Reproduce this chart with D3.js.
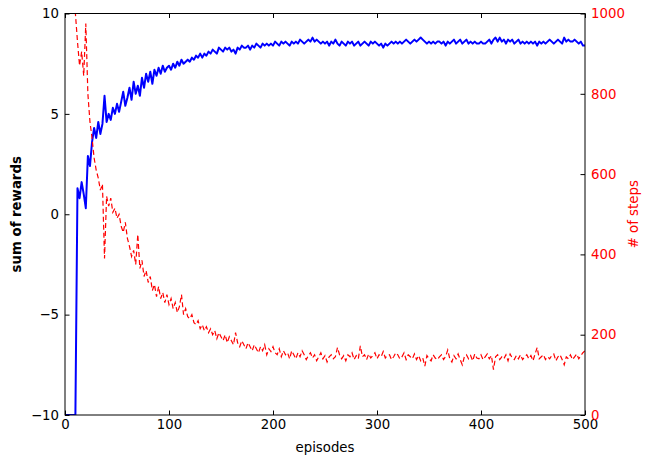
<!DOCTYPE html>
<html>
<head>
<meta charset="utf-8">
<script src="https://cdn.jsdelivr.net/npm/d3@7"></script>
<style>
  body { margin: 0; background: #fff; }
  text { font-family: "DejaVu Sans", sans-serif; }
</style>
</head>
<body>
<div id="chart"></div>
<script>
//episode step between recorded values
var epStep = 2;

//sum of rewards per episode (every 2nd episode, 0..500)
var rewards = [
  -10,-10,-10,-10,-10,-10,1.3,0.8,1.6,1.0,
  0.3,2.9,2.4,3.6,4.3,3.8,4.6,4.0,4.5,5.9,
  4.6,5.0,4.7,5.3,5.0,5.5,5.1,5.6,6.1,5.4,
  5.8,6.3,5.7,6.6,6.0,6.4,5.9,6.8,6.3,7.0,
  6.6,7.1,6.5,7.2,6.9,7.3,7.0,7.4,7.1,7.3,
  7.4,7.2,7.5,7.3,7.6,7.4,7.7,7.5,7.6,7.7,
  7.6,7.8,7.7,7.9,7.8,8.0,7.8,8.0,7.9,8.1,
  8.0,8.2,8.1,8.0,8.3,8.2,8.1,8.3,8.2,8.3,
  8.1,8.2,8.0,8.3,8.2,8.4,8.3,8.3,8.4,8.2,
  8.4,8.3,8.5,8.4,8.3,8.5,8.4,8.5,8.4,8.5,
  8.4,8.6,8.5,8.4,8.6,8.5,8.6,8.5,8.4,8.6,
  8.5,8.6,8.5,8.7,8.6,8.5,8.6,8.7,8.6,8.8,
  8.6,8.7,8.6,8.5,8.6,8.5,8.6,8.4,8.6,8.5,
  8.7,8.5,8.4,8.6,8.5,8.4,8.6,8.5,8.6,8.4,
  8.5,8.6,8.4,8.5,8.6,8.5,8.4,8.6,8.5,8.6,
  8.5,8.4,8.5,8.3,8.5,8.4,8.5,8.6,8.5,8.6,
  8.5,8.6,8.5,8.6,8.7,8.6,8.5,8.6,8.7,8.6,
  8.7,8.8,8.7,8.6,8.5,8.6,8.5,8.6,8.5,8.6,
  8.6,8.5,8.6,8.4,8.6,8.5,8.6,8.7,8.5,8.6,
  8.7,8.5,8.6,8.7,8.5,8.6,8.5,8.6,8.5,8.5,
  8.6,8.5,8.5,8.6,8.7,8.5,8.7,8.8,8.6,8.8,
  8.6,8.7,8.5,8.7,8.6,8.7,8.5,8.6,8.7,8.5,
  8.6,8.5,8.6,8.5,8.6,8.5,8.6,8.4,8.6,8.5,
  8.6,8.5,8.6,8.7,8.6,8.5,8.6,8.7,8.6,8.5,
  8.8,8.6,8.7,8.6,8.6,8.7,8.6,8.5,8.6,8.4,
  8.4
];

//number of steps per episode (same episodes)
var steps = [
  1000,1000,1000,1000,1000,1000,930,870,905,845,
  975,800,730,690,640,610,590,560,575,390,
  545,520,540,505,515,490,500,470,455,480,
  440,420,395,410,375,450,365,385,345,360,
  330,345,310,325,295,320,290,305,280,300,
  275,290,265,280,255,270,300,250,265,245,
  240,250,230,225,235,215,225,210,220,205,
  215,200,210,190,205,195,185,200,180,195,
  185,175,205,180,170,185,175,165,180,170,
  160,175,165,155,170,160,175,150,165,158,
  170,155,150,165,145,160,150,155,140,160,
  150,140,155,145,160,150,138,148,155,142,
  150,135,145,155,140,148,132,145,150,140,
  145,168,150,140,148,135,150,145,155,138,
  148,140,172,145,150,138,152,142,148,155,
  140,150,145,158,142,148,150,138,145,155,
  150,140,145,155,138,150,145,140,152,138,
  148,135,142,122,148,140,135,150,142,138,
  145,150,138,146,162,140,132,148,140,152,
  138,125,145,150,140,148,135,152,142,140,
  150,138,145,152,140,148,113,145,150,138,
  145,140,150,135,152,142,138,148,140,150,
  138,145,150,140,148,135,152,168,140,145,
  150,138,145,140,148,152,135,145,150,138,
  125,145,140,150,138,145,152,140,148,155,
  160
];

var xTicks = [0, 100, 200, 300, 400, 500];
var rewardTicks = [-10, -5, 0, 5, 10];
var stepTicks = [0, 200, 400, 600, 800, 1000];

//set the dimensions and margins of the graph
var margin = {top: 13.5, right: 72, bottom: 42, left: 65},
    width = 657 - margin.left - margin.right,
    height = 457 - margin.top - margin.bottom;

var svg = d3.select("#chart")
  .append("svg")
    .attr("width", 657)
    .attr("height", 457)
  .append("g")
    .attr("transform", "translate(" + margin.left + "," + margin.top + ")");

var x = d3.scaleLinear().domain([0, 500]).range([0, width]);
var yL = d3.scaleLinear().domain([-10, 10]).range([height, 0]);
var yR = d3.scaleLinear().domain([0, 1000]).range([height, 0]);

var fmt = function(d) { return d < 0 ? "\u2212" + Math.abs(d) : String(d); };
var fs = "13.3px";

svg.append("clipPath").attr("id", "plotClip")
  .append("rect").attr("width", width).attr("height", height);

//lines
var plot = svg.append("g").attr("clip-path", "url(#plotClip)");

plot.append("path")
  .datum(rewards)
  .attr("fill", "none")
  .attr("stroke", "#0000ff")
  .attr("stroke-width", 2)
  .attr("stroke-linejoin", "round")
  .attr("d", d3.line()
    .x(function(d, i) { return x(i * epStep); })
    .y(function(d) { return yL(d); }));

plot.append("path")
  .datum(steps)
  .attr("fill", "none")
  .attr("stroke", "#ff0000")
  .attr("stroke-width", 1.2)
  .attr("stroke-dasharray", "5,3")
  .attr("d", d3.line()
    .x(function(d, i) { return x(i * epStep); })
    .y(function(d) { return yR(d); }));

//axes, ticks pointing inward like matplotlib classic
var tk = 4.5;
svg.append("g")
  .attr("transform", "translate(0," + height + ")")
  .call(d3.axisBottom(x).tickValues(xTicks).tickSizeInner(-tk).tickSizeOuter(0).tickPadding(5).tickFormat(fmt));
svg.append("g")
  .call(d3.axisTop(x).tickValues(xTicks).tickSizeInner(-tk).tickSizeOuter(0).tickFormat(""));
svg.append("g")
  .call(d3.axisLeft(yL).tickValues(rewardTicks).tickSizeInner(-tk).tickSizeOuter(0).tickPadding(6).tickFormat(fmt));
var rAxis = svg.append("g")
  .attr("transform", "translate(" + width + ",0)")
  .call(d3.axisRight(yR).tickValues(stepTicks).tickSizeInner(-tk).tickSizeOuter(0).tickPadding(6).tickFormat(fmt));

svg.selectAll(".domain").remove();
svg.selectAll(".tick line").attr("stroke", "#000").attr("stroke-width", 1);
svg.selectAll(".tick text").attr("fill", "#000").style("font-size", fs)
  .style("font-family", "'DejaVu Sans', sans-serif");
rAxis.selectAll(".tick text").attr("fill", "#ff0000");

//frame
svg.append("rect")
  .attr("width", width).attr("height", height)
  .attr("fill", "none").attr("stroke", "#000").attr("stroke-width", 1);

//axis labels
svg.append("text")
  .attr("x", width / 2).attr("y", height + 37)
  .attr("text-anchor", "middle")
  .style("font-size", fs)
  .text("episodes");

svg.append("text")
  .attr("transform", "translate(" + (-44) + "," + (height / 2) + ") rotate(-90)")
  .attr("text-anchor", "middle")
  .style("font-size", fs)
  .style("font-weight", "bold")
  .text("sum of rewards");

svg.append("text")
  .attr("transform", "translate(" + (width + 53) + "," + (height / 2) + ") rotate(-90)")
  .attr("text-anchor", "middle")
  .attr("fill", "#ff0000")
  .style("font-size", fs)
  .text("# of steps");
</script>
</body>
</html>
